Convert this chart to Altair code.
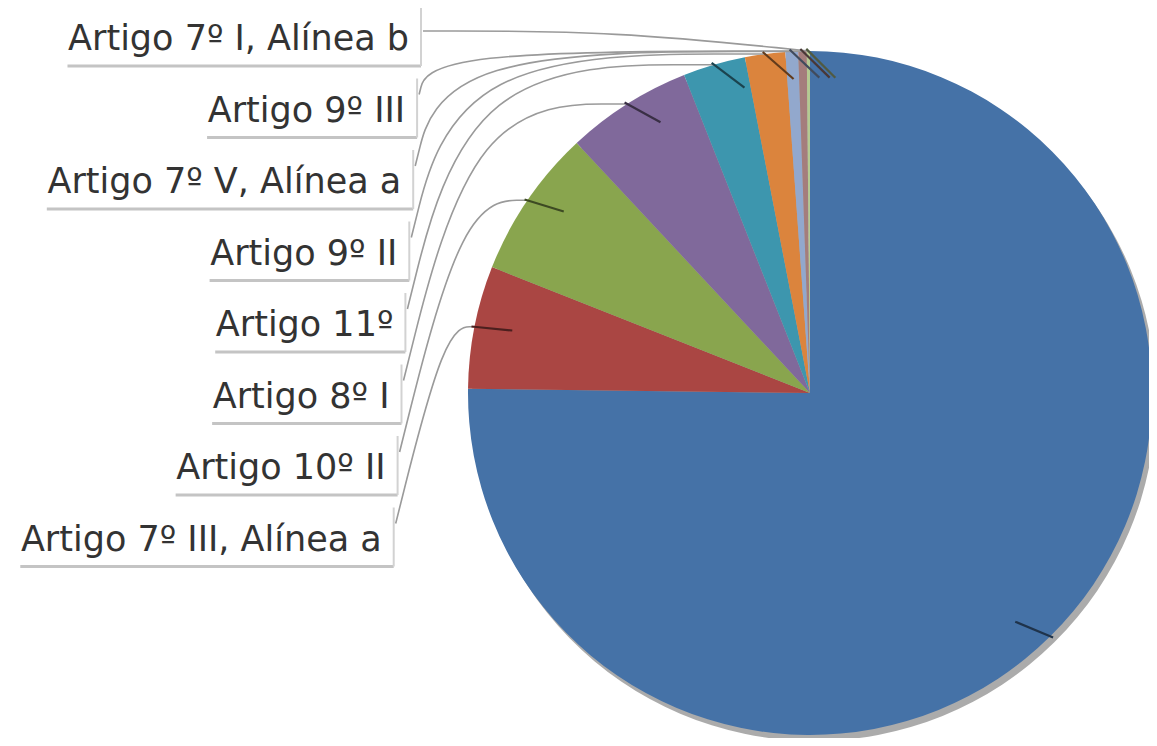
import math
import numpy as np
import pandas as pd
import altair as alt

# ---- data (clockwise from 12 o'clock) ----
slice_names = [
    "(sem rótulo)",
    "Artigo 7º III, Alínea a",
    "Artigo 10º II",
    "Artigo 8º I",
    "Artigo 11º",
    "Artigo 9º II",
    "Artigo 7º V, Alínea a",
    "Artigo 9º III",
    "Artigo 7º I, Alínea b",
]
slice_values = [75.2, 5.8, 7.05, 5.95, 2.95, 1.9, 0.6, 0.4, 0.15]
label_order = slice_names[:0:-1]  # labels listed top to bottom

# ---- style ----
palette = ["#4572A7", "#AA4643", "#89A54E", "#80699B", "#3D96AE",
           "#DB843D", "#92A8CD", "#A47D7C", "#B5CA92"]
W, H = 1141, 730
CX, CY, R = 802, 385, 342
FONT, FS = "DejaVu Sans", 35

# approximate DejaVu Sans advance widths (units of 1/2048 em)
_cw = {"A": 1401, "r": 842, "t": 803, "i": 569, "g": 1300, "o": 1253, " ": 651,
       "º": 768, "I": 604, ",": 651, "l": 569, "í": 569, "n": 1298, "e": 1260,
       "a": 1255, "V": 1401, "b": 1300}
def text_width(s):
    return sum(_cw.get(c, 1303) for c in s) / 2048 * FS

def darker(h, f=0.45):
    r, g, b = int(h[1:3], 16), int(h[3:5], 16), int(h[5:7], 16)
    return "#%02x%02x%02x" % (int(r * f), int(g * f), int(b * f))

n = len(slice_names)
vals = np.array(slice_values, dtype=float)
cum = np.cumsum(vals)
mid_deg = (cum - vals / 2) / vals.sum() * 360.0

pie_df = pd.DataFrame({"name": slice_names, "value": slice_values, "idx": list(range(n))})

def edge_point(i, rr=R):
    th = math.radians(mid_deg[i])
    return CX + rr * math.sin(th), CY - rr * math.cos(th), th

# ticks (short dark segments at the end of each leader)
tick_rows = []
for i in range(n):
    ex, ey, th = edge_point(i)
    inward = (-math.sin(th), math.cos(th))
    h = (1.0, 0.0) if math.sin(th) < 0 else (-1.0, 0.0)
    dx, dy = 0.5 * h[0] + 0.5 * inward[0], 0.5 * h[1] + 0.5 * inward[1]
    L = math.hypot(dx, dy)
    dx, dy = dx / L, dy / L
    tick_rows.append({"x": ex - 3 * dx, "y": ey - 3 * dy, "x2": ex + 38 * dx, "y2": ey + 38 * dy,
                      "name": slice_names[i]})
tick_df = pd.DataFrame(tick_rows)

line_rows, text_rows, under_rows, side_rows = [], [], [], []
for k, name in enumerate(label_order):
    i = slice_names.index(name)
    yc = 29 + 71.5 * k
    text_right = 401 - 3.9 * k
    box_right = text_right + 12
    ex, ey, th = edge_point(i)
    if k == 0:
        sx, sy = box_right + 2, yc - 6
        pts = [(sx, sy), ((sx + ex) / 2, sy), (ex, ey)]
    else:
        sx, sy = box_right + 2, yc - 14
        cxp = min(sx + 0.25 * (sy - ey), ex - 10)
        pts = [(sx, sy), (cxp, ey), (ex, ey)]
    for s, (px, py) in enumerate(pts):
        line_rows.append({"lid": k, "seq": s, "x": px, "y": py})
    text_rows.append({"x": text_right, "y": yc + 13, "label": name})
    tw = text_width(name)
    under_rows.append({"x": text_right - tw - 4, "x2": box_right, "y": yc + 29})
    side_rows.append({"x": box_right, "y": yc - 30, "y2": yc + 29})

line_df = pd.DataFrame(line_rows)
text_df = pd.DataFrame(text_rows)
under_df = pd.DataFrame(under_rows)
side_df = pd.DataFrame(side_rows)

X = lambda f: alt.X(f, scale=None, axis=None)
Y = lambda f: alt.Y(f, scale=None, axis=None)

shadow = alt.Chart(pie_df).mark_arc(radius=R, color="#9c9c9c", opacity=0.85).encode(
    theta=alt.Theta("value:Q", stack=True),
    order=alt.Order("idx:Q"),
    x=alt.value(CX + 4), y=alt.value(CY + 6),
)

pie = alt.Chart(pie_df).mark_arc(radius=R).encode(
    theta=alt.Theta("value:Q", stack=True),
    color=alt.Color("name:N", scale=alt.Scale(domain=slice_names, range=palette), legend=None),
    order=alt.Order("idx:Q"),
    x=alt.value(CX), y=alt.value(CY),
)

leaders = alt.Chart(line_df).mark_line(interpolate="basis", color="#9a9a9a", strokeWidth=1.6).encode(
    x=X("x:Q"), y=Y("y:Q"), detail="lid:N", order="seq:Q"
)

ticks = alt.Chart(tick_df).mark_rule(strokeWidth=2.2).encode(
    x=X("x:Q"), y=Y("y:Q"), x2="x2:Q", y2="y2:Q",
    color=alt.Color("name:N", scale=alt.Scale(domain=slice_names,
                                              range=[darker(c) for c in palette]), legend=None),
)

underlines = alt.Chart(under_df).mark_rule(color="#c4c4c4", strokeWidth=3).encode(
    x=X("x:Q"), x2="x2:Q", y=Y("y:Q")
)
sides = alt.Chart(side_df).mark_rule(color="#d2d2d2", strokeWidth=2).encode(
    x=X("x:Q"), y=Y("y:Q"), y2="y2:Q"
)

texts = alt.Chart(text_df).mark_text(
    align="right", baseline="alphabetic", font=FONT, fontSize=FS, color="#333333"
).encode(x=X("x:Q"), y=Y("y:Q"), text="label:N")

chart = alt.layer(shadow, pie, leaders, ticks, underlines, sides, texts).resolve_scale(
    color="independent"
).properties(
    width=W, height=H, autosize=alt.AutoSizeParams(type="none"), padding=0
).configure_view(stroke=None)

chart.save("out.html", embed_options={"renderer": "svg", "actions": False})
